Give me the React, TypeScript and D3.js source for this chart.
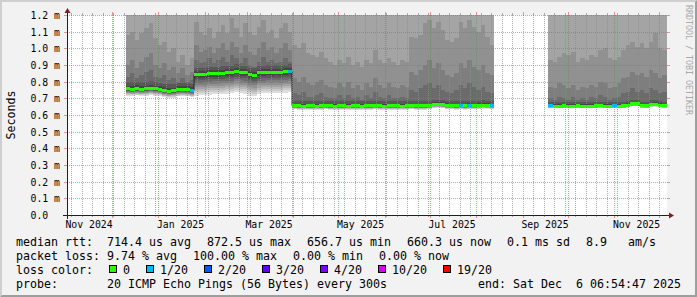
import React from "react";
import * as d3 from "d3";

// ---------- time range & axes ----------
const START = new Date(2024, 10, 1, 6, 54, 47);
const END = new Date(2025, 11, 6, 6, 54, 47);

const yTickValues = [0, 0.1, 0.2, 0.3, 0.4, 0.5, 0.6, 0.7, 0.8, 0.9, 1.0, 1.1, 1.2];
const yTickLabels = ["0.0", "0.1 m", "0.2 m", "0.3 m", "0.4 m", "0.5 m", "0.6 m", "0.7 m", "0.8 m", "0.9 m", "1.0 m", "1.1 m", "1.2 m"];
const xLabelMonths = [
  new Date(2024, 10, 1), new Date(2025, 0, 1), new Date(2025, 2, 1), new Date(2025, 4, 1),
  new Date(2025, 6, 1), new Date(2025, 8, 1), new Date(2025, 10, 1),
];
const xLabelTexts = ["Nov 2024", "Jan 2025", "Mar 2025", "May 2025", "Jul 2025", "Sep 2025", "Nov 2025"];

// ---------- data segments (values in ms) ----------
const segmentStarts = [new Date(2024, 11, 10, 12), new Date(2025, 0, 25), new Date(2025, 2, 31, 12), new Date(2025, 8, 18)];
const segmentEnds = [new Date(2025, 0, 25), new Date(2025, 2, 31, 12), new Date(2025, 7, 13, 6), new Date(2025, 11, 6, 6)];

const seg1Median = [0.757, 0.756, 0.758, 0.756, 0.757, 0.762, 0.757, 0.755, 0.748, 0.744, 0.745, 0.752, 0.753, 0.752, 0.748];
const seg1Loss = [0, 0, 0, 0, 0, 0, 0, 0, 0, 0, 0, 0, 0, 0, 1];
const seg1P14 = [0.83, 0.85, 0.82, 0.84, 0.86, 0.87, 0.83, 0.82, 0.84, 0.81, 0.82, 0.8, 0.82, 0.8, 0.81];
const seg1P15 = [0.9, 0.93, 0.88, 0.92, 0.95, 0.97, 0.9, 0.88, 0.91, 0.87, 0.89, 0.85, 0.88, 0.84, 0.86];
const seg1P16 = [1.08, 1.1, 1.05, 1.09, 1.12, 1.15, 1.06, 1.02, 1.04, 0.98, 1.0, 0.92, 0.96, 0.9, 0.94];

const seg2Median = [0.842, 0.843, 0.845, 0.848, 0.85, 0.851, 0.852, 0.854, 0.855, 0.864, 0.856, 0.854, 0.842, 0.84, 0.853, 0.855, 0.858, 0.857, 0.858, 0.856, 0.86, 0.864];
const seg2Loss = [0, 0, 0, 0, 0, 0, 0, 0, 0, 0, 0, 0, 0, 0, 0, 0, 0, 0, 0, 0, 0, 1];
const seg2P14 = [0.93, 0.91, 0.92, 0.94, 0.91, 0.93, 0.95, 0.92, 0.96, 0.94, 0.91, 0.94, 0.9, 0.89, 0.92, 0.95, 0.92, 0.93, 0.91, 0.92, 0.94, 0.92];
const seg2P15 = [1.02, 0.98, 0.99, 1.01, 0.97, 1.0, 1.03, 0.99, 1.04, 1.01, 0.97, 1.02, 0.98, 0.96, 1.0, 1.04, 0.99, 1.01, 0.97, 1.0, 1.03, 0.99];
const seg2P16 = [1.16, 1.1, 1.08, 1.12, 1.06, 1.1, 1.14, 1.09, 1.18, 1.12, 1.07, 1.15, 1.1, 1.08, 1.13, 1.17, 1.09, 1.11, 1.06, 1.12, 1.15, 1.1];

const seg3Median = [
  0.656, 0.655, 0.654, 0.655, 0.655, 0.654, 0.655, 0.656, 0.655, 0.654,
  0.655, 0.655, 0.654, 0.655, 0.655, 0.654, 0.655, 0.655, 0.656, 0.655,
  0.654, 0.655, 0.655, 0.655, 0.654, 0.655, 0.656, 0.655, 0.655, 0.655,
  0.656, 0.664, 0.665, 0.663, 0.657, 0.656, 0.655, 0.656, 0.655, 0.657,
  0.656, 0.658, 0.66, 0.659, 0.656,
];
const seg3Loss = [
  0, 0, 0, 0, 0, 0, 0, 0, 0, 0, 0, 0, 0, 0, 0, 0, 0, 0, 0, 0,
  0, 0, 0, 0, 0, 0, 0, 0, 0, 0, 0, 0, 0, 0, 0, 0, 0, 1, 0, 1,
  0, 0, 0, 0, 1,
];
const seg3P14 = [
  0.73, 0.72, 0.74, 0.71, 0.71, 0.72, 0.73, 0.71, 0.7, 0.7, 0.72, 0.7, 0.72, 0.7, 0.71, 0.69, 0.72, 0.7, 0.74, 0.71,
  0.7, 0.72, 0.7, 0.7, 0.71, 0.7,
  0.75, 0.74, 0.76, 0.78, 0.79, 0.76, 0.78, 0.75, 0.74, 0.73, 0.75, 0.78, 0.76, 0.79, 0.77, 0.75, 0.77, 0.74, 0.73,
];
const seg3P15 = [
  0.82, 0.8, 0.83, 0.79, 0.78, 0.8, 0.81, 0.78, 0.77, 0.76, 0.79, 0.77, 0.8, 0.76, 0.78, 0.75, 0.79, 0.77, 0.82, 0.78,
  0.76, 0.79, 0.77, 0.76, 0.78, 0.77,
  0.86, 0.84, 0.87, 0.9, 0.93, 0.88, 0.91, 0.87, 0.84, 0.83, 0.85, 0.91, 0.88, 0.93, 0.89, 0.87, 0.9, 0.85, 0.84,
];
const seg3P16 = [
  1.02, 1.0, 1.03, 0.97, 0.96, 0.95, 0.98, 0.94, 0.92, 0.9, 0.93, 0.91, 0.95, 0.9, 0.92, 0.89, 0.93, 0.91, 0.99, 0.93,
  0.91, 0.94, 0.92, 0.9, 0.93, 0.92,
  1.07, 1.06, 1.08, 1.15, 1.17, 1.12, 1.16, 1.11, 1.05, 1.04, 1.06, 1.16, 1.12, 1.17, 1.13, 1.1, 1.14, 1.07, 1.02,
];

const seg4Median = [
  0.655, 0.654, 0.654, 0.655, 0.654, 0.654, 0.655, 0.654, 0.654, 0.654,
  0.655, 0.656, 0.654, 0.654, 0.655, 0.654, 0.655, 0.66, 0.667, 0.667,
  0.656, 0.655, 0.663, 0.664, 0.658, 0.656,
];
const seg4Loss = [1, 0, 0, 0, 0, 0, 0, 0, 0, 0, 0, 0, 0, 0, 1, 0, 0, 0, 0, 0, 0, 0, 0, 0, 0, 0];
const seg4P14 = [0.7, 0.69, 0.71, 0.7, 0.69, 0.71, 0.69, 0.7, 0.69, 0.71, 0.7, 0.72, 0.71, 0.69, 0.7, 0.71, 0.73, 0.74, 0.76, 0.74, 0.75, 0.73, 0.76, 0.75, 0.73, 0.74];
const seg4P15 = [0.77, 0.76, 0.79, 0.78, 0.76, 0.78, 0.75, 0.77, 0.76, 0.78, 0.77, 0.8, 0.79, 0.76, 0.77, 0.79, 0.82, 0.83, 0.86, 0.84, 0.85, 0.83, 0.87, 0.85, 0.82, 0.84];
const seg4P16 = [0.93, 0.92, 0.95, 0.97, 0.96, 0.98, 0.92, 0.94, 0.93, 0.96, 0.95, 0.99, 1.0, 0.94, 0.93, 0.95, 0.99, 1.02, 1.04, 1.01, 1.03, 1.0, 1.04, 1.09, 1.0, 0.99];

// spread of the lower pings (p1..p10) below the median, per segment
const seg1Lower = [0.04, 0.035, 0.031, 0.027, 0.023, 0.019, 0.015, 0.011, 0.007, 0.003];
const seg2Lower = [0.125, 0.112, 0.1, 0.088, 0.075, 0.062, 0.048, 0.034, 0.02, 0.007];
const seg3Lower = [0.022, 0.019, 0.016, 0.014, 0.012, 0.01, 0.008, 0.006, 0.004, 0.002];
const seg4Lower = [0.014, 0.012, 0.011, 0.01, 0.009, 0.007, 0.006, 0.004, 0.003, 0.001];
// p11..p13 above the median, per segment
const seg1Near = [0.008, 0.02, 0.04];
const seg2Near = [0.008, 0.02, 0.04];
const seg3Near = [0.005, 0.013, 0.028];
const seg4Near = [0.005, 0.012, 0.025];
// p17..p20 are beyond the top of the graph
const highPings = [1.3, 1.35, 1.4, 1.5];

const segMedian = [seg1Median, seg2Median, seg3Median, seg4Median];
const segLoss = [seg1Loss, seg2Loss, seg3Loss, seg4Loss];
const segP14 = [seg1P14, seg2P14, seg3P14, seg4P14];
const segP15 = [seg1P15, seg2P15, seg3P15, seg4P15];
const segP16 = [seg1P16, seg2P16, seg3P16, seg4P16];
const segLower = [seg1Lower, seg2Lower, seg3Lower, seg4Lower];
const segNear = [seg1Near, seg2Near, seg3Near, seg4Near];

const smokeColors = ["#dddddd", "#cacaca", "#b7b7b7", "#a4a4a4", "#919191", "#7e7e7e", "#6b6b6b", "#585858", "#454545", "#323232"];
const lossColors = ["#26ff00", "#00b8ff", "#0059ff", "#5e00ff", "#7e00ff", "#dd00ff", "#ff0000"];
const lossLabels = ["0", "1/20", "2/20", "3/20", "4/20", "10/20", "19/20"];

const legendLine1 = ["median rtt:", "714.4 us avg", "872.5 us max", "656.7 us min", "660.3 us now", "0.1 ms sd", "8.9   am/s"];
const legendLine2 = ["packet loss:", "9.74 % avg", "100.00 % max", "0.00 % min", "0.00 % now"];
const legendLine3Title = "loss color:";
const legendLine4 = ["probe:", "20 ICMP Echo Pings (56 Bytes) every 300s"];
const legendEnd = "end: Sat Dec  6 06:54:47 2025";

type Bucket = { t: Date; t1: Date; med: number; loss: number; p: number[] };

function buildBuckets(si: number): Bucket[] {
  const s = +segmentStarts[si];
  const e = +segmentEnds[si];
  const med = segMedian[si];
  const n = med.length;
  const step = (e - s) / n;
  return med.map((m, k) => {
    const p: number[] = new Array(21).fill(0);
    for (let j = 1; j <= 10; j++) p[j] = m - segLower[si][j - 1];
    p[11] = m + segNear[si][0];
    p[12] = m + segNear[si][1];
    p[13] = m + segNear[si][2];
    p[14] = Math.max(p[13], segP14[si][k]);
    p[15] = Math.max(p[14], segP15[si][k]);
    p[16] = Math.max(p[15], segP16[si][k]);
    for (let j = 17; j <= 20; j++) p[j] = highPings[j - 17];
    return { t: new Date(s + k * step), t1: new Date(s + (k + 1) * step), med: m, loss: segLoss[si][k], p };
  });
}

const MONO = "'DejaVu Sans Mono', monospace";
const FS = 11.63;
const CW = 7;
const AFS = 9.8;

export default function App() {
  const W = 697, H = 297;
  const X0 = 67, X1 = 667, Y0 = 215, Y1 = 15;
  const x = d3.scaleTime().domain([START, END]).range([X0, X1]);
  const y = d3.scaleLinear().domain([0, 1.2]).range([Y0, Y1]);
  const px = (t: Date) => Math.round(x(t));

  const segs = segmentStarts.map((_, i) => buildBuckets(i));

  // smoke areas
  const smokePaths: { d: string; color: string; key: string }[] = [];
  segs.forEach((bk, si) => {
    const pts = [...bk, { ...bk[bk.length - 1], t: bk[bk.length - 1].t1 }];
    for (let i = 1; i <= 10; i++) {
      const area = d3
        .area<Bucket>()
        .x((d) => px(d.t))
        .y0((d) => y(d.p[i]))
        .y1((d) => y(d.p[21 - i]))
        .curve(d3.curveStepAfter);
      smokePaths.push({ d: area(pts) || "", color: smokeColors[i - 1], key: `s${si}-${i}` });
    }
  });

  // dark median line (continuous for contiguous segments)
  type LP = { t: Date; v: number | null };
  const linePts: LP[] = [];
  segs.forEach((bk, si) => {
    if (si > 0 && +segmentStarts[si] !== +segmentEnds[si - 1]) {
      linePts.push({ t: segmentEnds[si - 1], v: null });
    }
    bk.forEach((b) => linePts.push({ t: b.t, v: b.med }));
    linePts.push({ t: bk[bk.length - 1].t1, v: bk[bk.length - 1].med });
  });
  const medLine = d3
    .line<LP>()
    .defined((d) => d.v !== null)
    .x((d) => px(d.t))
    .y((d) => y(d.v as number))
    .curve(d3.curveStepAfter)(linePts);

  const majors = d3.timeMonth.range(START, END);
  const minors = d3.timeMonday.range(START, END).filter((t) => !majors.some((m) => +m === +t));

  const labelX = (m: Date) => x(d3.timeDay.offset(m, 15));

  // legend line 3 layout
  const boxes: { bx: number; tx: number; c: string; l: string }[] = [];
  let bx = 109;
  lossLabels.forEach((l, i) => {
    const tx = bx + 14;
    boxes.push({ bx, tx, c: lossColors[i], l });
    bx = tx + l.length * CW + 16;
  });

  const layoutLine = (items: string[]) => {
    const out: { s: string; x: number }[] = [];
    let cx = 16;
    items.forEach((s, i) => {
      if (i === 1) cx = 107;
      out.push({ s, x: cx });
      cx = cx + s.length * CW + 16;
    });
    return out;
  };

  const textStyle: React.CSSProperties = { whiteSpace: "pre" };

  return (
    <div>
      <style>{"html,body{margin:0;padding:0;background:#f2f2f2}"}</style>
      <svg width={W} height={H} style={{ display: "block" }} fontFamily={MONO}>
        <defs>
          <clipPath id="plot">
            <rect x={X0} y={Y1} width={X1 - X0} height={Y0 - Y1} />
          </clipPath>
        </defs>
        {/* background & bevel */}
        <rect x={0} y={0} width={W} height={H} fill="#f2f2f2" />
        <polygon points={`0,${H} 2,${H - 2} 2,2 ${W - 2},2 ${W},0 0,0`} fill="#cfcfcf" />
        <polygon points={`2,${H - 2} ${W - 2},${H - 2} ${W - 2},2 ${W},0 ${W},${H} 0,${H}`} fill="#9e9e9e" />
        {/* canvas */}
        <rect x={X0} y={Y1} width={X1 - X0} height={Y0 - Y1} fill="#ffffff" />

        {/* smoke */}
        <g clipPath="url(#plot)">
          {smokePaths.map((p) => (
            <path key={p.key} d={p.d} fill={p.color} shapeRendering="crispEdges" />
          ))}
          {medLine && <path d={medLine} fill="none" stroke="#202020" strokeWidth={1} />}
          {segs.map((bk, si) =>
            bk.map((b, k) => (
              <rect
                key={`m${si}-${k}`}
                x={px(b.t)}
                width={Math.max(1, px(b.t1) - px(b.t))}
                y={y(b.med) - 1.5}
                height={3}
                fill={lossColors[b.loss]}
                shapeRendering="crispEdges"
              />
            ))
          )}
        </g>

        {/* grid */}
        <g strokeWidth={1} fill="none">
          {minors.map((t, i) => {
            const xx = px(t) + 0.5;
            return (
              <g key={`mi${i}`} stroke="rgba(143,143,143,0.75)">
                <line x1={xx} x2={xx} y1={Y1} y2={Y0} strokeDasharray="1 1" />
                <line x1={xx} x2={xx} y1={Y0} y2={Y0 + 2} />
                <line x1={xx} x2={xx} y1={Y1 - 2} y2={Y1} />
              </g>
            );
          })}
          {majors.map((t, i) => {
            const xx = px(t) + 0.5;
            return (
              <g key={`ma${i}`} stroke="rgba(222,79,79,0.6)">
                <line x1={xx} x2={xx} y1={Y1} y2={Y0} strokeDasharray="1 1" />
                <line x1={xx} x2={xx} y1={Y0} y2={Y0 + 3} />
                <line x1={xx} x2={xx} y1={Y1 - 3} y2={Y1} />
              </g>
            );
          })}
          {yTickValues.map((v, i) => {
            const yy = Math.round(y(v)) + 0.5;
            return (
              <g key={`yg${i}`} stroke="rgba(222,79,79,0.6)">
                {v > 0 && <line x1={X0} x2={X1} y1={yy} y2={yy} strokeDasharray="1 1" />}
                <line x1={X0 - 3} x2={X0} y1={yy} y2={yy} />
                <line x1={X1} x2={X1 + 3} y1={yy} y2={yy} />
              </g>
            );
          })}
        </g>

        {/* axes */}
        <line x1={X0 - 4} x2={X1 + 4} y1={Y0 + 0.5} y2={Y0 + 0.5} stroke="#1f1f1f" strokeWidth={1} />
        <line x1={X0 + 0.5} x2={X0 + 0.5} y1={Y0 + 4} y2={Y1 - 4} stroke="#1f1f1f" strokeWidth={1} />
        <polygon points={`${X1 + 2},${Y0 - 2.5} ${X1 + 2},${Y0 + 3.5} ${X1 + 7},${Y0 + 0.5}`} fill="#801f1f" />
        <polygon points={`${X0 - 2.5},${Y1 - 2} ${X0 + 3.5},${Y1 - 2} ${X0 + 0.5},${Y1 - 7}`} fill="#801f1f" />

        {/* y labels */}
        {yTickValues.map((v, i) => (
          <text key={`yl${i}`} x={30.5} y={Math.round(y(v)) + 4} fontSize={AFS} fill="#000" style={textStyle}>
            {yTickLabels[i]}
          </text>
        ))}
        {/* x labels */}
        {xLabelMonths.map((m, i) => (
          <text key={`xl${i}`} x={labelX(m)} y={227.5} fontSize={AFS} textAnchor="middle" fill="#000" style={textStyle}>
            {xLabelTexts[i]}
          </text>
        ))}
        {/* y title */}
        <text transform={`translate(15,115) rotate(-90)`} fontSize={FS} textAnchor="middle" fill="#000">
          Seconds
        </text>
        {/* watermark */}
        <text transform={`translate(685.5,5) rotate(90)`} fontSize={8.3} fill="#a9a9a9" style={textStyle}>
          RRDTOOL / TOBI OETIKER
        </text>

        {/* legend */}
        {layoutLine(legendLine1).map((it, i) => (
          <text key={`l1${i}`} x={it.x} y={245.5} fontSize={FS} style={textStyle}>{it.s}</text>
        ))}
        {layoutLine(legendLine2).map((it, i) => (
          <text key={`l2${i}`} x={it.x} y={259.5} fontSize={FS} style={textStyle}>{it.s}</text>
        ))}
        <text x={16} y={273.5} fontSize={FS} style={textStyle}>{legendLine3Title}</text>
        {boxes.map((b, i) => (
          <g key={`b${i}`}>
            <rect x={b.bx + 0.5} y={265.5} width={7} height={7} fill={b.c} stroke="#000" strokeWidth={1} />
            <text x={b.tx} y={273.5} fontSize={FS} style={textStyle}>{b.l}</text>
          </g>
        ))}
        {layoutLine(legendLine4).map((it, i) => (
          <text key={`l4${i}`} x={it.x} y={287.5} fontSize={FS} style={textStyle}>{it.s}</text>
        ))}
        <text x={681} y={287.5} fontSize={FS} textAnchor="end" style={textStyle}>{legendEnd}</text>
      </svg>
    </div>
  );
}
